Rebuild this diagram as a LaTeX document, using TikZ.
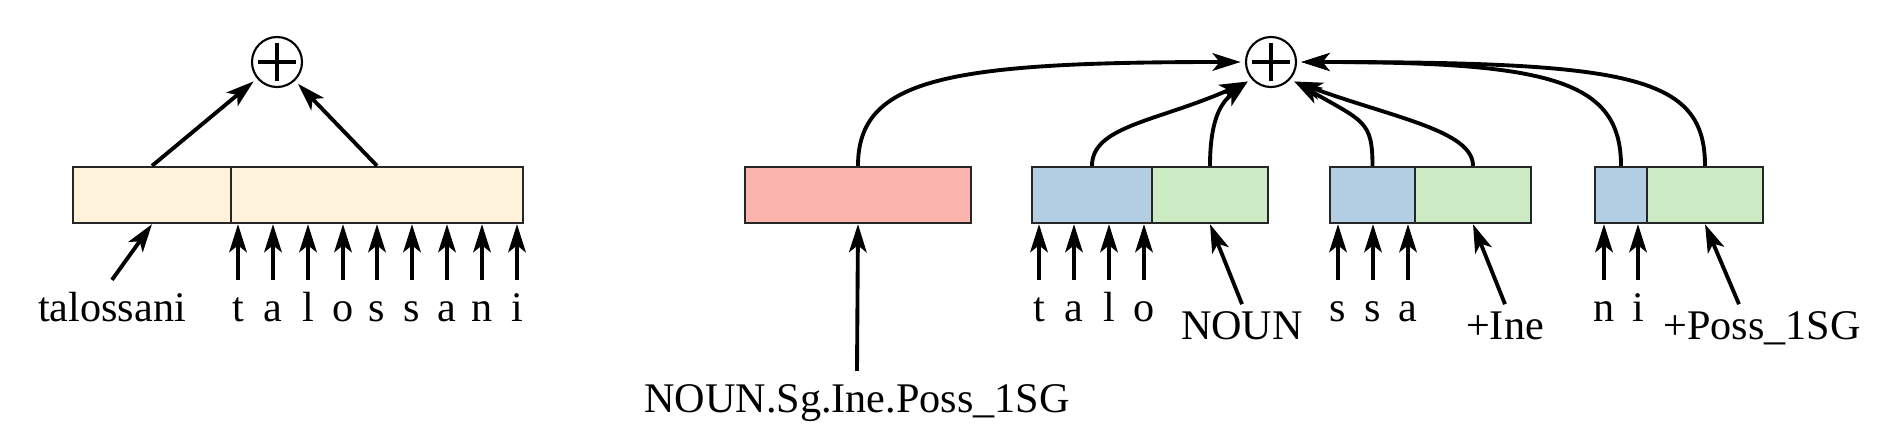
\documentclass[tikz,border=0pt]{standalone}
\usepackage{fontspec}
\setmainfont{Liberation Serif}
\usetikzlibrary{arrows.meta}

\definecolor{cream}{HTML}{FEF2DA}
\definecolor{tagred}{HTML}{FBB4AE}
\definecolor{segblue}{HTML}{B3CDE3}
\definecolor{featgreen}{HTML}{CCEBC5}

\begin{document}
\begin{tikzpicture}[x=0.01cm,y=0.01cm,
  font=\fontsize{12}{14}\selectfont,
  >={Stealth[length=8pt,width=5pt,inset=2pt]},
  box node/.style={rectangle,draw=black!85,line width=0.65pt,minimum height=0.56cm,inner sep=0pt},
  sum node/.style={circle,draw,line width=0.6pt,minimum size=0.5cm,inner sep=0pt,outer sep=1.5pt,
    path picture={\draw[line width=1.15pt]
      ([xshift=-0.19cm]path picture bounding box.center) -- ([xshift=0.19cm]path picture bounding box.center)
      ([yshift=-0.19cm]path picture bounding box.center) -- ([yshift=0.19cm]path picture bounding box.center);}},
  char node/.style={anchor=base,text height=8.2pt,text depth=2.5pt,inner sep=3.3pt},
  lab node/.style={anchor=base,text height=8.2pt,text depth=2.5pt,inner sep=1.5pt}]

  \useasboundingbox (0,0) rectangle (1890,-445);

  % word level
  \node[box node,fill=cream,minimum width=1.58cm] (w1) at (152,-195) {};
  \node[box node,fill=cream,minimum width=2.92cm] (w2) at (377,-195) {};
  \node[sum node] (sum1) at (277,-62) {};

  \node[char node] (word) at (112,-321) {talossani};
  \node[char node] (c1) at (238,-321) {t};
  \node[char node] (c2) at (273,-321) {a};
  \node[char node] (c3) at (308,-321) {l};
  \node[char node] (c4) at (343,-321) {o};
  \node[char node] (c5) at (377,-321) {s};
  \node[char node] (c6) at (412,-321) {s};
  \node[char node] (c7) at (447,-321) {a};
  \node[char node] (c8) at (482,-321) {n};
  \node[char node] (c9) at (517,-321) {i};

  % morpheme level
  \node[box node,fill=tagred,minimum width=2.26cm] (tag) at (858,-195) {};
  \node[box node,fill=segblue,minimum width=1.20cm] (s1) at (1092,-195) {};
  \node[box node,fill=featgreen,minimum width=1.16cm] (t1) at (1210,-195) {};
  \node[box node,fill=segblue,minimum width=0.85cm] (s2) at (1372.5,-195) {};
  \node[box node,fill=featgreen,minimum width=1.16cm] (t2) at (1473,-195) {};
  \node[box node,fill=segblue,minimum width=0.52cm] (s3) at (1621,-195) {};
  \node[box node,fill=featgreen,minimum width=1.16cm] (t3) at (1705,-195) {};
  \node[sum node] (sum2) at (1271,-62) {};

  \node[char node] (full) at (857,-412) {NOUN.Sg.Ine.Poss\_1SG};
  \node[char node] (d1) at (1039,-321) {t};
  \node[char node] (d2) at (1074,-321) {a};
  \node[char node] (d3) at (1109,-321) {l};
  \node[char node] (d4) at (1144,-321) {o};
  \node[char node] (d5) at (1338,-321) {s};
  \node[char node] (d6) at (1373,-321) {s};
  \node[char node] (d7) at (1408,-321) {a};
  \node[char node] (d8) at (1604,-321) {n};
  \node[char node] (d9) at (1638,-321) {i};
  \node[lab node] (f1) at (1242,-339) {NOUN};
  \node[lab node] (f2) at (1505,-339) {+Ine};
  \node[lab node] (f3) at (1762,-339) {+Poss\_1SG};

  \path[->,line width=1.1pt]
   (w1.north) edge (sum1)
   (w2.north) edge (sum1)
   (word.north) edge (w1.south)
   (c1.north) edge (c1.north |- w2.south)
   (c2.north) edge (c2.north |- w2.south)
   (c3.north) edge (c3.north |- w2.south)
   (c4.north) edge (c4.north |- w2.south)
   (c5.north) edge (c5.north |- w2.south)
   (c6.north) edge (c6.north |- w2.south)
   (c7.north) edge (c7.north |- w2.south)
   (c8.north) edge (c8.north |- w2.south)
   (c9.north) edge (c9.north |- w2.south);

  \path[->,line width=1.1pt]
   (full.north) edge (tag.south)
   (d1.north) edge (d1.north |- s1.south)
   (d2.north) edge (d2.north |- s1.south)
   (d3.north) edge (d3.north |- s1.south)
   (d4.north) edge (d4.north |- s1.south)
   (d5.north) edge (d5.north |- s2.south)
   (d6.north) edge (d6.north |- s2.south)
   (d7.north) edge (d7.north |- s2.south)
   (d8.north) edge (d8.north |- s3.south)
   (d9.north) edge (d9.north |- s3.south)
   (f1.north) edge (t1.south)
   (f2.north) edge (t2.south)
   ([xshift=-0.23cm]f3.north) edge (t3.south);

  \path[->,line width=1.1pt]
   (tag.north) edge[out=90,in=180,out distance=0.87cm,in distance=2.95cm] (sum2.west)
   (s1.north) edge[out=90,in=204,out distance=0.4cm,in distance=0.98cm] (sum2.220)
   (t1.north) edge[out=90,in=219,out distance=0.55cm,in distance=0.28cm] (sum2.220)
   (s2.north) edge[out=90,in=-30,out distance=0.45cm,in distance=0.8cm] (sum2.-40)
   (t2.north) edge[out=90,in=-20,out distance=0.35cm,in distance=1.06cm] (sum2.-40)
   (s3.north) edge[out=90,in=0,out distance=0.85cm,in distance=2.5cm] (sum2.east)
   (t3.north) edge[out=90,in=0,out distance=0.9cm,in distance=3.3cm] (sum2.east);
\end{tikzpicture}
\end{document}
